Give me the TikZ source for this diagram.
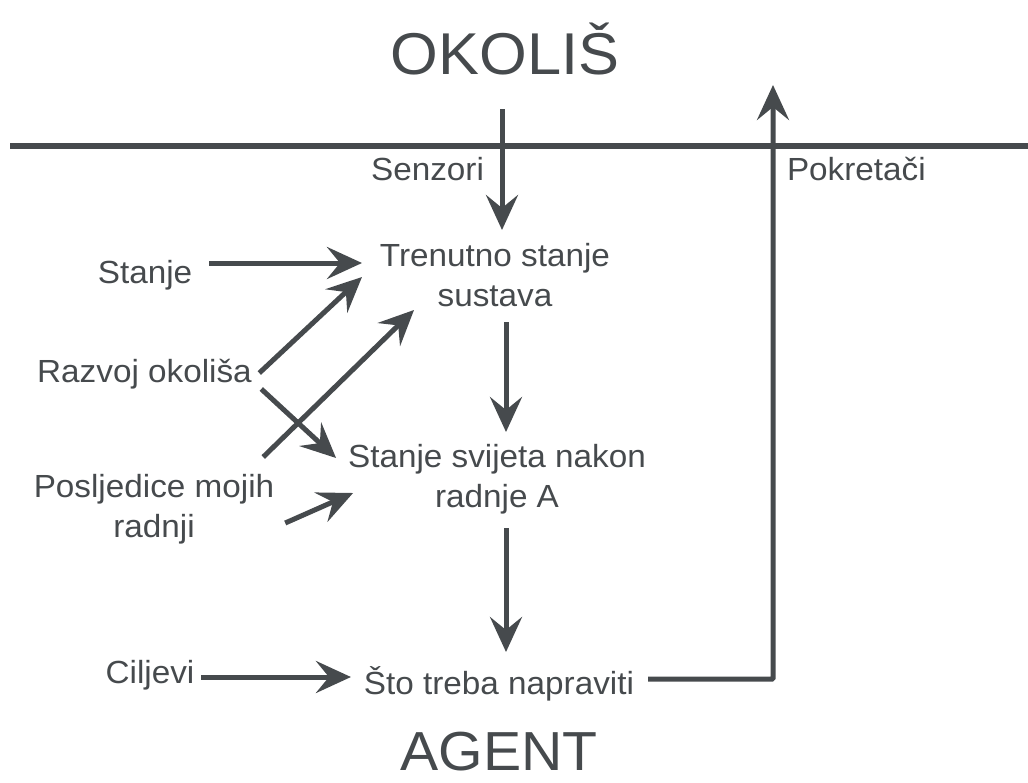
\documentclass[tikz,border=0pt]{standalone}
\usepackage{fontspec}
\setmainfont{Liberation Sans}[FakeStretch=1.04]
\usepackage{tikz}
\usetikzlibrary{arrows.meta,calc}
\definecolor{ink}{RGB}{70,74,77}

\begin{document}
\begin{tikzpicture}[x=1pt, y=-1pt,
  txt/.style={font=\fontsize{32}{40}\selectfont, text=ink, inner sep=0pt, outer sep=0pt},
  big/.style={font=\fontsize{59}{64}\selectfont, text=ink, inner sep=0pt},
  link/.style={draw=ink, line width=5pt, -{Stealth[length=35pt, width=32pt, inset=13pt]}}]
\useasboundingbox (0,0) rectangle (1028,782);
\draw [ink, line width=5.5pt] (10,146) -- (1028,146);
\node [big, anchor=base] (okolis) at (505,74) {OKOLIŠ};
\node [big, anchor=base, font=\fontsize{55}{60}\selectfont] (agent) at (499,770) {AGENT};
\node [txt, anchor=base] (senzori) at (427.5,180) {Senzori};
\node [txt, anchor=base west] (pokretaci) at (787,180) {Pokretači};
\node [txt, anchor=north, align=center] (trenutno) at (495,243) {Trenutno stanje\\sustava};
\node [txt, anchor=north, align=center] (svijet) at (497,444) {Stanje svijeta nakon\\radnje A};
\node [txt, anchor=base] (sto) at (499,694) {Što treba napraviti};
\node [txt, anchor=base] (stanje) at (145,283) {Stanje};
\node [txt, anchor=base] (razvoj) at (144.5,382) {Razvoj okoliša};
\node [txt, anchor=north, align=center] (posljedice) at (154,474) {Posljedice mojih\\radnji};
\node [txt, anchor=base] (ciljevi) at (150,683) {Ciljevi};
\coordinate (senzIn) at (502,109);
\coordinate (pokOut) at (773,85);
\draw [link] (senzIn) -- ($(trenutno.north)+(7,-13)$);
\draw [link, rounded corners=1pt] ($(sto.base east)+(14,-15)$) -| (pokOut);
\draw [link] ($(trenutno.north)+(11,79)$) -- ($(svijet.north)+(9,-12)$);
\draw [link] ($(svijet.north)+(9,84)$) -- ($(sto.base)+(7,-42)$);
\draw [link] ($(stanje.base east)+(17,-20)$) -- ($(trenutno.north west)+(-18,20)$);
\draw [link] ($(razvoj.base east)+(7.5,-9)$) -- ($(trenutno.north west)+(-18,34)$);
\draw [link] ($(razvoj.base east)+(9.5,7)$) -- ($(svijet.north west)+(-12,14)$);
\draw [link] ($(posljedice.north east)+(-11,-17)$) -- ($(trenutno.north west)+(34,67)$);
\draw [link] ($(posljedice.north east)+(11,49)$) -- ($(svijet.north west)+(5,49)$);
\draw [link] ($(ciljevi.base east)+(7,-6)$) -- ($(sto.base west)+(-13,-17)$);
\end{tikzpicture}
\end{document}
